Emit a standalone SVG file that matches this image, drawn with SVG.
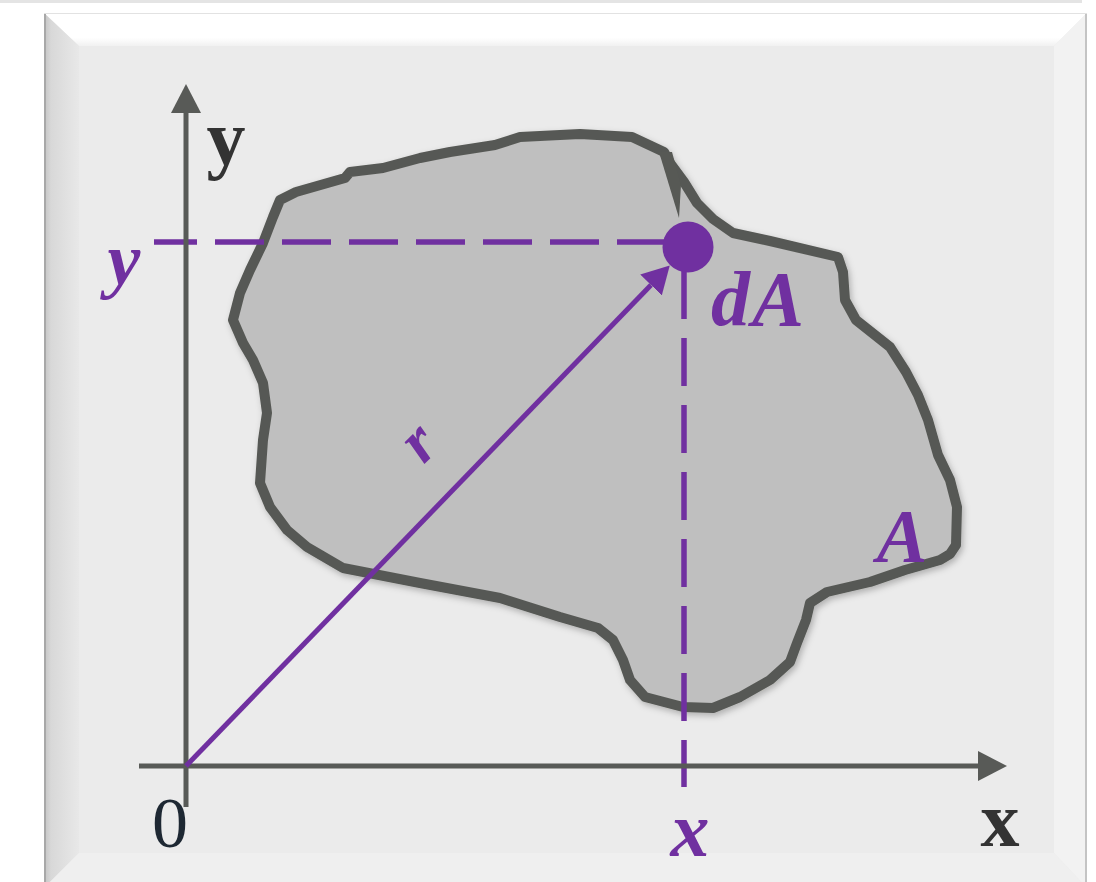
<svg xmlns="http://www.w3.org/2000/svg" width="1096" height="882" viewBox="0 0 1096 882">
  <defs>
    <style>
      .axis { stroke: #585a57; stroke-width: 5; fill: none; }
      .purple { stroke: #7030a0; fill: none; }
      .dash { stroke: #7030a0; stroke-width: 5.5; fill: none; }
      .lbl-dark { font-family: "Liberation Serif", serif; font-weight: bold; fill: #333333; }
      .lbl-purple { font-family: "Liberation Serif", serif; font-weight: bold; font-style: italic; fill: #7030a0; }
    </style>
    <linearGradient id="gLeft" x1="0" y1="0" x2="1" y2="0">
      <stop offset="0" stop-color="#c4c4c4"/>
      <stop offset="0.2" stop-color="#d8d8d8"/>
      <stop offset="1" stop-color="#e8e8e8"/>
    </linearGradient>
    <linearGradient id="gTop" x1="0" y1="0" x2="0" y2="1">
      <stop offset="0" stop-color="#ffffff"/>
      <stop offset="0.75" stop-color="#ffffff"/>
      <stop offset="1" stop-color="#f1f1f1"/>
    </linearGradient>
    <filter id="shadow" x="-10%" y="-10%" width="120%" height="120%">
      <feDropShadow dx="2" dy="3" stdDeviation="3" flood-color="#000" flood-opacity="0.25"/>
    </filter>
    <marker id="arrGray" markerUnits="userSpaceOnUse" viewBox="0 0 29 30" markerWidth="29" markerHeight="30" refX="0" refY="15" orient="auto">
      <path d="M0,0 L29,15 L0,30 Z" fill="#585a57"/>
    </marker>
    <marker id="arrPurple" markerUnits="userSpaceOnUse" viewBox="0 0 27 30" markerWidth="27" markerHeight="30" refX="0" refY="15" orient="auto">
      <path d="M0,0 L27,15 L0,30 Z" fill="#7030a0"/>
    </marker>
  </defs>

  <rect x="0" y="0" width="1096" height="882" fill="#ffffff"/>
  <rect x="0" y="0" width="1082" height="3" fill="#e4e4e4"/>

  <g id="frame">
    <rect x="44" y="13" width="1043" height="880" fill="#ebebeb"/>
    <polygon points="44,13 1087,13 1054,46 79,46" fill="url(#gTop)"/>
    <polygon points="44,13 79,46 79,853 44,888" fill="url(#gLeft)"/>
    <polygon points="1087,13 1087,888 1054,853 1054,46" fill="#f2f2f2"/>
    <polygon points="44,888 79,853 1054,853 1087,888" fill="#efefef"/>
    <line x1="45" y1="13" x2="45" y2="882" stroke="#a8a8a8" stroke-width="2"/>
    <line x1="1086" y1="13" x2="1086" y2="882" stroke="#c4c4c4" stroke-width="2"/>
    <line x1="44" y1="13.5" x2="1087" y2="13.5" stroke="#e2e2e2" stroke-width="1"/>
  </g>

  <g id="area-A">
    <path filter="url(#shadow)" fill="#bfbfbf" stroke="#575955" stroke-width="10" stroke-linejoin="round"
      d="M280,200 L296,192 L345,178 L350,172 L383,168 L420,158 L450,152 L495,145 L520,137 L580,134 L632,137 L664,152 L670,163 L684,182 L697,203 L713,219 L733,233 L770,241 L838,257 L843,272 L845,300 L856,320 L890,347 L906,372 L918,395 L928,420 L938,455 L950,480 L957,507 L956,545 L950,554 L940,560 L905,570 L870,582 L827,592 L810,603 L806,620 L797,643 L790,662 L770,680 L740,697 L713,708 L683,707 L645,697 L630,680 L623,660 L613,640 L598,628 L560,617 L500,598 L420,583 L343,568 L307,547 L287,530 L270,507 L260,483 L263,440 L267,413 L263,383 L253,360 L243,343 L233,320 L240,293 L250,270 L263,243 L273,217 Z"/>
    <polygon points="659,152 672,152 681,185 679,218" fill="#575955"/>
  </g>

  <g id="connectors">
    <line class="dash" x1="154" y1="242" x2="664" y2="242" stroke-dasharray="49 18" stroke-dashoffset="6"/>
    <line class="dash" x1="684" y1="271" x2="684" y2="787" stroke-dasharray="48 19"/>
    <line class="axis" x1="186" y1="807" x2="186" y2="113" marker-end="url(#arrGray)"/>
    <line class="axis" x1="139" y1="766" x2="978" y2="766" marker-end="url(#arrGray)"/>
    <line class="purple" stroke-width="5" x1="186" y1="766" x2="651" y2="285" marker-end="url(#arrPurple)"/>
  </g>

  <g id="dA-point">
    <circle cx="688" cy="247" r="25.5" fill="#7030a0"/>
  </g>

  <g id="labels">
    <text class="lbl-dark" x="226" y="164" font-size="78" text-anchor="middle">y</text>
    <text class="lbl-dark" x="1000" y="846" font-size="78" text-anchor="middle">x</text>
    <text x="170" y="847" font-family="Liberation Serif, serif" font-size="72" fill="#1e2833" text-anchor="middle">0</text>
    <text class="lbl-purple" x="124" y="284" font-size="74" text-anchor="middle">y</text>
    <text class="lbl-purple" x="690" y="856" font-size="78" text-anchor="middle">x</text>
    <text class="lbl-purple" x="711" y="325" font-size="78" letter-spacing="2">dA</text>
    <text class="lbl-purple" x="902" y="562" font-size="76" text-anchor="middle">A</text>
    <text class="lbl-purple" transform="translate(423,447) rotate(-45)" x="0" y="13" font-size="64" font-style="normal" text-anchor="middle">r</text>
  </g>
</svg>
